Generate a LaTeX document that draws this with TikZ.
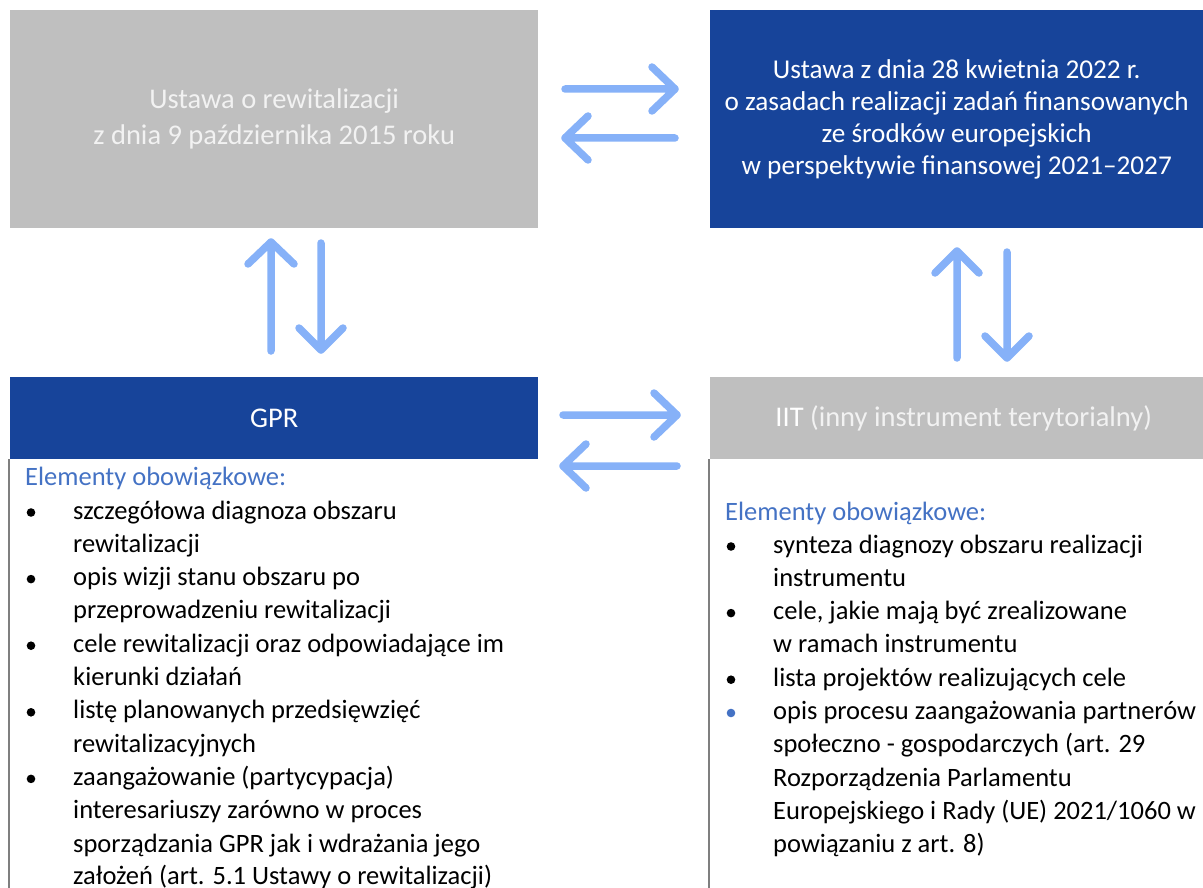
\documentclass[tikz,border=0pt]{standalone}
\usepackage{fontspec}
\setmainfont{Carlito}
\definecolor{boxgray}{HTML}{BFBFBF}
\definecolor{boxblue}{HTML}{17449A}
\definecolor{arrowblue}{HTML}{86B1F8}
\definecolor{headblue}{HTML}{4472C4}
\definecolor{lightw}{HTML}{F2F2F2}
\definecolor{rulegray}{HTML}{7F7F7F}
\begin{document}
\begin{tikzpicture}[x=1pt,y=-1pt,
  bigbox/.style={inner sep=0pt, anchor=north west, minimum height=218pt, align=center},
  headbox/.style={inner sep=0pt, anchor=north west, minimum height=82pt, text=white,
    font=\fontsize{28.5}{32}\selectfont},
  arr/.style={draw=arrowblue, line width=7.5pt, line cap=round, line join=round},
  vrule/.style={draw=rulegray, line width=1.6pt},
  ln/.style={inner sep=0pt, anchor=base west, font=\fontsize{26.5}{32}\selectfont},
  listhead/.style={ln, text=headblue},
  bul/.style={fill=black}]
\useasboundingbox (0,0) rectangle (1203,888);

% top boxes
\node[bigbox, fill=boxgray, text=lightw, minimum width=528pt,
  font=\fontsize{28.5}{36}\selectfont] (rew) at (10,10)
  {Ustawa o rewitalizacji\\z dnia 9 października 2015 roku};
\node[bigbox, fill=boxblue, text=white, minimum width=493pt,
  font=\fontsize{27.2}{32}\selectfont] (ust) at (710,10)
  {Ustawa z dnia 28 kwietnia 2022 r.\\o zasadach realizacji zadań finansowanych\\ze środków europejskich\\w perspektywie finansowej 2021--2027};

% bottom headers
\node[headbox, fill=boxblue, minimum width=528pt] (gpr) at (10,377) {GPR};
\node[headbox, fill=boxgray, minimum width=493pt] (iit) at (710,377) {\hspace{14pt}IIT {\color{lightw}(inny instrument terytorialny)}};

% side rules
\coordinate (lr1) at (9,459); \coordinate (lr2) at (9,888);
\coordinate (rr1) at (709,459); \coordinate (rr2) at (709,888);
\draw[vrule] (lr1) -- (lr2);
\draw[vrule] (rr1) -- (rr2);

% arrows between top boxes
\coordinate (t1s) at (565,89);  \coordinate (t1e) at (675,89);
\coordinate (t2s) at (675,138); \coordinate (t2e) at (565,138);
\draw[arr] (t1s) -- (t1e) -- ++(-23,-22) (t1e) -- ++(-23,22);
\draw[arr] (t2s) -- (t2e) -- ++(23,-22) (t2e) -- ++(23,22);
% arrows between bottom headers
\coordinate (b1s) at (563,415); \coordinate (b1e) at (677,415);
\coordinate (b2s) at (677,466); \coordinate (b2e) at (563,466);
\draw[arr] (b1s) -- (b1e) -- ++(-23,-22) (b1e) -- ++(-23,22);
\draw[arr] (b2s) -- (b2e) -- ++(23,-22) (b2e) -- ++(23,22);
% left vertical arrows
\coordinate (l1s) at (271,351); \coordinate (l1e) at (271,242);
\coordinate (l2s) at (321,243); \coordinate (l2e) at (321,350);
\draw[arr] (l1s) -- (l1e) -- ++(-23,22) (l1e) -- ++(23,22);
\draw[arr] (l2s) -- (l2e) -- ++(-22,-22) (l2e) -- ++(22,-22);
% right vertical arrows
\coordinate (r1s) at (957,358); \coordinate (r1e) at (957,251);
\coordinate (r2s) at (1007,252); \coordinate (r2e) at (1007,358);
\draw[arr] (r1s) -- (r1e) -- ++(-22,22) (r1e) -- ++(22,22);
\draw[arr] (r2s) -- (r2e) -- ++(-22,-22) (r2e) -- ++(22,-22);

% left list
\node[listhead] (lh) at (25,485) {Elementy obowiązkowe:};
\node[ln] (la) at (73,519)   {szczegółowa diagnoza obszaru};
\node[ln] (lb) at (73,552.3) {rewitalizacji};
\node[ln] (lc) at (73,585.6) {opis wizji stanu obszaru po};
\node[ln] (ld) at (73,618.9) {przeprowadzeniu rewitalizacji};
\node[ln] (le) at (73,652.2) {cele rewitalizacji oraz odpowiadające im};
\node[ln] (lf) at (73,685.5) {kierunki działań};
\node[ln] (lg) at (73,718.8) {listę planowanych przedsięwzięć};
\node[ln] (lh2) at (73,752.1) {rewitalizacyjnych};
\node[ln] (li) at (73,785.4) {zaangażowanie (partycypacja)};
\node[ln] (lj) at (73,818.7) {interesariuszy zarówno w proces};
\node[ln] (lk) at (73,852)   {sporządzania GPR jak i wdrażania jego};
\node[ln] (ll) at (73,884) {założeń (art. 5.1 Ustawy o rewitalizacji)};
\foreach \yy in {519,585.6,652.2,718.8,785.4}
  \fill[bul] (31,\yy-6.5) circle (4.3);

% right list
\node[listhead] (rh) at (725,520) {Elementy obowiązkowe:};
\node[ln] (ra) at (773,553)   {synteza diagnozy obszaru realizacji};
\node[ln] (rb) at (773,586.3) {instrumentu};
\node[ln] (rc) at (773,619.6) {cele, jakie mają być zrealizowane};
\node[ln] (rd) at (773,652.9) {w ramach instrumentu};
\node[ln] (re) at (773,686.2) {lista projektów realizujących cele};
\node[ln] (rf) at (773,719.5) {opis procesu zaangażowania partnerów};
\node[ln] (rg) at (773,752.8) {społeczno - gospodarczych (art. 29};
\node[ln] (rh2) at (773,786.1) {Rozporządzenia Parlamentu};
\node[ln] (ri) at (773,819.4) {Europejskiego i Rady (UE) 2021/1060 w};
\node[ln] (rj) at (773,852.7) {powiązaniu z art. 8)};
\foreach \yy in {553,619.6,686.2}
  \fill[bul] (731,\yy-6.5) circle (4.3);
\fill[headblue] (731,713) circle (4.3);
\end{tikzpicture}
\end{document}
